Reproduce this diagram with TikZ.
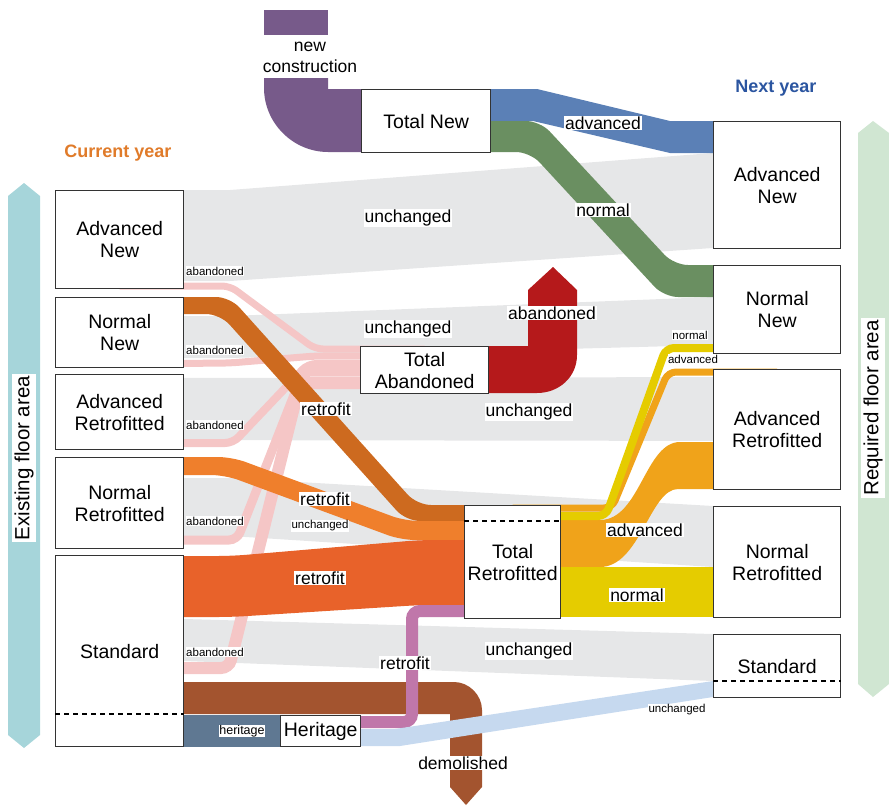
\documentclass[tikz,border=0pt]{standalone}
\usepackage{fontspec}
\setmainfont{Liberation Sans}
\usetikzlibrary{calc,backgrounds}

\definecolor{flowgray}{HTML}{E6E7E8}
\definecolor{newpurple}{HTML}{775A8A}
\definecolor{advblue}{HTML}{5B80B6}
\definecolor{normgreen}{HTML}{6A8F61}
\definecolor{abandpink}{HTML}{F5C6C6}
\definecolor{abandred}{HTML}{B5191B}
\definecolor{retrodark}{HTML}{CD6A1F}
\definecolor{retromid}{HTML}{EF7F2C}
\definecolor{retrostd}{HTML}{E8622A}
\definecolor{advorange}{HTML}{F0A31A}
\definecolor{normyellow}{HTML}{E5CC00}
\definecolor{demobrown}{HTML}{A3542F}
\definecolor{heritslate}{HTML}{5F7892}
\definecolor{heritmauve}{HTML}{C077AA}
\definecolor{unchblue}{HTML}{C6D9EF}
\definecolor{existteal}{HTML}{A6D5DA}
\definecolor{reqgreen}{HTML}{D0E6D2}
\definecolor{curorange}{HTML}{E07B2A}
\definecolor{nextblue}{HTML}{2B55A0}

\tikzset{
    box/.style 2 args={ % #1 = width, #2 = height
        draw=black!80, line width=1.4pt, fill=white, anchor=north west,
        minimum width=#1, minimum height=#2, inner sep=0pt, align=center,
        font=\fontsize{19.5}{22}\selectfont
    },
    flowlabel/.style={fill=white, inner sep=1pt, font=\fontsize{17.5}{20}\selectfont},
    smalllabel/.style={fill=white, inner sep=0.5pt, font=\fontsize{11.5}{13}\selectfont},
    yearlabel/.style={font=\bfseries\fontsize{18}{21}\selectfont},
    sidelabel/.style={fill=white, inner sep=2pt, rotate=90, font=\fontsize{20.5}{24}\selectfont},
    dashline/.style={line width=1.4pt, dash pattern=on 5pt off 4pt}
}

\begin{document}
\begin{tikzpicture}[
    x=1pt, y=-1pt,
    band/.style={rounded corners=14pt},
    thinflow/.style={line width=#1, rounded corners=8pt},
]
\useasboundingbox (0,0) rectangle (889,806);

% ============ Boxes ============

\node[box={128pt}{98pt}] (advnewL) at (55,190) {Advanced\\New};
\node[box={128pt}{70pt}] (normnewL) at (55,297) {Normal\\New};
\node[box={128pt}{75pt}] (advretroL) at (55,374) {Advanced\\Retrofitted};
\node[box={128pt}{91pt}] (normretroL) at (55,457) {Normal\\Retrofitted};
\node[box={128pt}{191pt}] (standardL) at (55,555) {Standard};

\node[box={127pt}{127pt}] (advnewR) at (713,121) {Advanced\\New};
\node[box={127pt}{88pt}] (normnewR) at (713,265) {Normal\\New};
\node[box={127pt}{120pt}] (advretroR) at (713,369) {Advanced\\Retrofitted};
\node[box={127pt}{111pt}] (normretroR) at (713,506) {Normal\\Retrofitted};
\node[box={127pt}{63pt}] (standardR) at (713,634) {Standard};

\node[box={129pt}{63pt}] (totalnew) at (361,89) {Total New};
\node[box={128pt}{47pt}] (totalaband) at (360,346) {Total\\Abandoned};
\node[box={96pt}{113pt}] (totalretro) at (464,505) {Total\\Retrofitted};
\node[box={80pt}{31pt}] (heritage) at (280,715) {Heritage};

\draw[dashline] (standardL.west |- 0,714) -- (standardL.east |- 0,714);
\draw[dashline] (standardR.west |- 0,681) -- (standardR.east |- 0,681);
\draw[dashline] (totalretro.west |- 0,521) -- (totalretro.east |- 0,521);

\begin{scope}[on background layer]

% ============ Side arrows ============

\fill[existteal] (8,196) -- (24,183) -- (40,196) -- (40,735) -- (24,748) -- (8,735) -- cycle;
\fill[reqgreen] (858,133) -- (873,121) -- (889,133) -- (889,684) -- (873,697) -- (858,684) -- cycle;

% ============ Unchanged bands ============

\fill[flowgray] (advnewL.center |- 0,190) -- (230,190) -- (advnewR.west |- 0,153)
    -- (advnewR.center |- 0,153) -- (advnewR.center |- 0,248) -- (advnewR.west |- 0,248)
    -- (230,281) -- (advnewL.center |- 0,281) -- cycle;
\fill[flowgray] (normnewL.center |- 0,316) -- (230,316) -- (normnewR.west |- 0,297)
    -- (normnewR.center |- 0,297) -- (normnewR.center |- 0,345) -- (normnewR.west |- 0,345)
    -- (230,358) -- (normnewL.center |- 0,358) -- cycle;
\fill[flowgray] (advretroL.center |- 0,378) -- (advretroR.center |- 0,377)
    -- (advretroR.center |- 0,441) -- (advretroL.center |- 0,440) -- cycle;
\fill[flowgray] (normretroL.center |- 0,478) -- (230,478) -- (normretroR.west |- 0,506)
    -- (normretroR.center |- 0,506) -- (normretroR.center |- 0,567) -- (normretroR.west |- 0,567)
    -- (230,536) -- (normretroL.center |- 0,536) -- cycle;
\fill[flowgray] (standardL.center |- 0,619) -- (standardL.east |- 0,619) -- (standardR.west |- 0,634)
    -- (standardR.center |- 0,634) -- (standardR.center |- 0,681) -- (standardR.west |- 0,681)
    -- (standardL.east |- 0,661) -- (standardL.center |- 0,661) -- cycle;

% ============ Abandoned ============

\draw[abandpink, thinflow=7pt] (advnewL.center |- 0,286) -- (230,286) -- (315,349) -- (totalaband.center |- 0,349);
\draw[abandpink, thinflow=7pt] (normnewL.center |- 0,364) -- (230,363) -- (315,356) -- (totalaband.center |- 0,356);
\draw[abandpink, thinflow=8pt] (advretroL.center |- 0,443) -- (233,443) -- (308,364) -- (totalaband.center |- 0,364);
\draw[abandpink, thinflow=9pt] (normretroL.center |- 0,540) -- (237,540) -- (303,372) -- (totalaband.center |- 0,372);
\draw[abandpink, thinflow=12pt] (standardL.center |- 0,668) -- (229,668) -- (300,383) -- (totalaband.center |- 0,383);

\fill[abandred] (totalaband.center |- 0,346) -- (528,346) -- (528,290) -- (553,267) -- (577,290)
    -- (577,355) .. controls (577,377) and (559,393) .. (537,393) -- (totalaband.center |- 0,393) -- cycle;

% ============ New construction ============

\fill[newpurple] (264,10) rectangle (328,35);
\fill[newpurple] (328,78) -- (264,78) -- (264,88) .. controls (264,123) and (293,152) .. (328,152)
    -- (totalnew.center |- 0,152) -- (totalnew.center |- 0,89) -- (328,89) -- cycle;

\fill[advblue] (totalnew.center |- 0,89) -- (537,89) -- (670,121) -- (advnewR.center |- 0,121)
    -- (advnewR.center |- 0,153) -- (670,153) -- (533,121) -- (totalnew.center |- 0,121) -- cycle;
\fill[normgreen, band] (totalnew.center |- 0,121) -- (540,121) -- (674,265) -- (normnewR.center |- 0,265)
    -- (normnewR.center |- 0,297) -- (664,297) -- (530,152) -- (totalnew.center |- 0,152) -- cycle;

% ============ Retrofit ============

\fill[retrodark, band] (normnewL.center |- 0,297) -- (230,297) -- (417,505) -- (totalretro.center |- 0,505)
    -- (totalretro.center |- 0,521) -- (406,521) -- (220,314) -- (normnewL.center |- 0,314) -- cycle;
\fill[retromid, band] (normretroL.center |- 0,457) -- (232,457) -- (405,521) -- (totalretro.center |- 0,521)
    -- (totalretro.center |- 0,540) -- (401,540) -- (225,475) -- (normretroL.center |- 0,475) -- cycle;
\fill[retrostd, band] (standardL.center |- 0,556) -- (232,556) -- (420,540) -- (totalretro.center |- 0,540)
    -- (totalretro.center |- 0,605) -- (420,605) -- (232,617) -- (standardL.center |- 0,617) -- cycle;

% ============ Demolished and heritage ============

\fill[demobrown] (standardL.center |- 0,682) -- (454,682) .. controls (469,682) and (482,695) .. (482,710)
    -- (482,787) -- (466,805) -- (450,787) -- (450,714) -- (standardL.center |- 0,714) -- cycle;
\fill[heritslate] (standardL.south east) rectangle (heritage.north west);
\draw[heritmauve, thinflow=12pt] (heritage.center |- 0,722) -- (412,722) -- (412,611) -- (totalretro.center |- 0,611);
\fill[unchblue] (heritage.center |- 0,729) -- (395,729) -- (standardR.west |- 0,681) -- (standardR.center |- 0,681)
    -- (standardR.center |- 0,697) -- (standardR.west |- 0,697) -- (400,746) -- (heritage.center |- 0,746) -- cycle;

% ============ From Total Retrofitted ============

\fill[advorange] (totalretro.center |- 0,520) -- (600,520) .. controls (640,520) and (645,442) .. (680,442)
    -- (advretroR.center |- 0,442) -- (advretroR.center |- 0,489) -- (678,489)
    .. controls (650,489) and (640,567) .. (600,567) -- (totalretro.center |- 0,567) -- cycle;
\fill[normyellow] (totalretro.center |- 0,567) rectangle (normretroR.center |- 0,617);
\draw[advorange, thinflow=7pt] (totalretro.center |- 0,508) -- (612,508) -- (668,372) -- (advretroR.center |- 0,372);
\draw[normyellow, thinflow=8pt] (totalretro.center |- 0,516) -- (606,516) -- (666,348) -- (normnewR.center |- 0,348);

\end{scope}

% Labels
\node[flowlabel, align=center, font=\fontsize{17.5}{21}\selectfont] at (310,57) {new\\construction};
\node[flowlabel] at (603,123) {advanced};
\node[flowlabel] at (603,210) {normal};
\node[flowlabel] at (408,218) {unchanged};
\node[flowlabel] at (408,329) {unchanged};
\node[flowlabel] at (552,313) {abandoned};
\node[flowlabel] at (529,412) {unchanged};
\node[flowlabel] at (326,409) {retrofit};
\node[flowlabel] at (325,499) {retrofit};
\node[flowlabel] at (320,578) {retrofit};
\node[flowlabel] at (645,530) {advanced};
\node[flowlabel] at (637,595) {normal};
\node[flowlabel] at (529,651) {unchanged};
\node[flowlabel] at (405,663) {retrofit};
\node[flowlabel] at (463,763) {demolished};

\foreach \y in {271,350,425,521,652}
    \node[smalllabel] at (215,\y) {abandoned};
\node[smalllabel] at (320,526) {unchanged};
\node[smalllabel] at (690,335) {normal};
\node[smalllabel] at (693,359) {advanced};
\node[smalllabel, font=\fontsize{12.5}{14}\selectfont] at (242,731) {heritage};
\node[smalllabel] at (677,710) {unchanged};

\node[yearlabel, text=curorange] at (118,153) {Current year};
\node[yearlabel, text=nextblue] at (776,88) {Next year};
\node[sidelabel] at (24,458) {Existing floor area};
\node[sidelabel] at (873,408) {Required floor area};

\end{tikzpicture}
\end{document}
